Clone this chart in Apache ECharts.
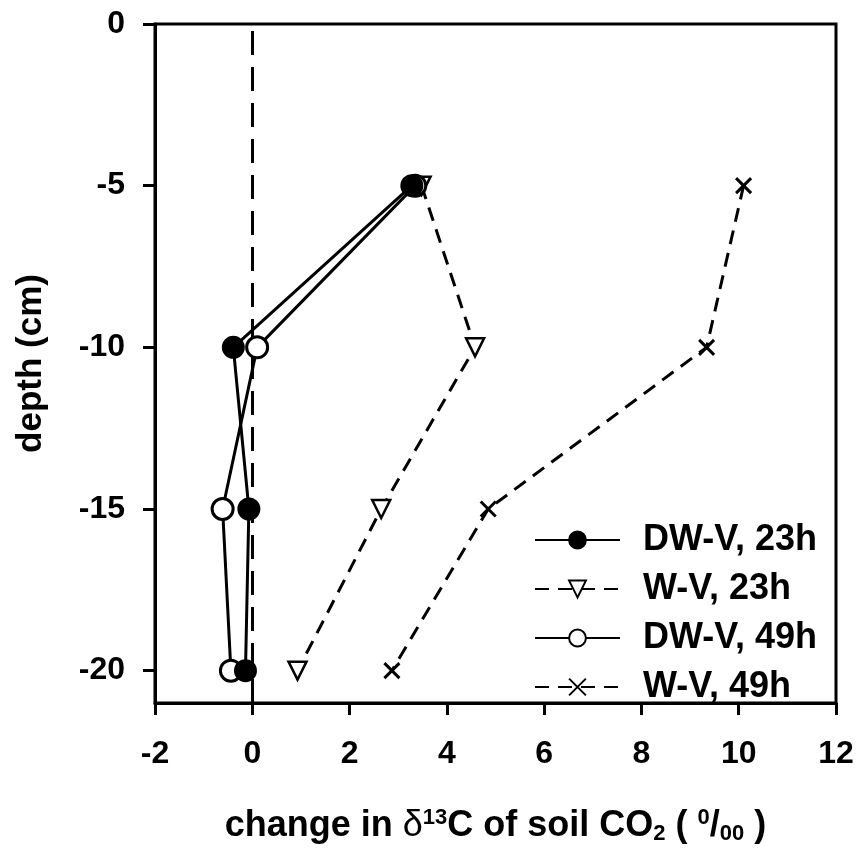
<!DOCTYPE html>
<html>
<head>
<meta charset="utf-8">
<script src="https://cdn.jsdelivr.net/npm/echarts@6/dist/echarts.min.js"></script>
<style>
  html, body { margin: 0; padding: 0; background: #fff; }
  #chart { width: 860px; height: 853px; }
</style>
</head>
<body>
<div id="chart"></div>
<script>
// Depth of each sampling level (cm)
const depths = [-5, -10, -15, -20];

// Change in δ13C of soil CO2 (per mil) at each depth
const dwv23 = [3.28, -0.39, -0.07, -0.14];
const wv23  = [3.48, 4.58, 2.65, 0.93];
const dwv49 = [3.35, 0.10, -0.61, -0.44];
const wv49  = [10.10, 9.34, 4.85, 2.87];

const xTicks = [-2, 0, 2, 4, 6, 8, 10, 12];
const yTicks = [0, -5, -10, -15, -20];

const FONT = 'Liberation Sans, Arial, sans-serif';
const pair = (xs) => xs.map((v, i) => [v, depths[i]]);
const crossPath = 'path://M0,0L10,10M10,0L0,10';

const chart = echarts.init(document.getElementById('chart'), null, { renderer: 'canvas' });

function lineSeries(name, values, opts) {
  return Object.assign({
    name: name,
    type: 'line',
    data: pair(values),
    symbolSize: 21,
    lineStyle: { color: '#000', width: 3, type: 'solid' },
    itemStyle: { color: '#000', borderColor: '#000', borderWidth: 3 },
    emphasis: { disabled: true },
    animation: false,
    z: 3
  }, opts);
}

chart.setOption({
  backgroundColor: '#fff',
  animation: false,
  grid: {
    left: 155, right: 24, top: 24, bottom: 150,
    show: true, borderColor: '#000', borderWidth: 3, backgroundColor: 'transparent'
  },
  xAxis: {
    type: 'value', min: -2, max: 12, interval: 2,
    name: 'change in {d|δ}{sup|13}C of soil CO{sub|2} ( {sup|0}/{sub|00} )',
    nameLocation: 'middle', nameGap: 104,
    nameTextStyle: {
      fontFamily: FONT, fontSize: 36, fontWeight: 'bold', color: '#000',
      rich: {
        d: { fontFamily: FONT, fontSize: 36, fontWeight: 'normal', color: '#000' },
        sup: { fontFamily: FONT, fontSize: 22, fontWeight: 'bold', color: '#000', verticalAlign: 'top', padding: [0, 0, 16, 0] },
        sub: { fontFamily: FONT, fontSize: 22, fontWeight: 'bold', color: '#000', verticalAlign: 'bottom', padding: [14, 0, 0, 0] }
      }
    },
    axisLine: { onZero: false, lineStyle: { color: '#000', width: 3 } },
    axisTick: { show: true, length: 12, inside: false, lineStyle: { color: '#000', width: 3 } },
    axisLabel: {
      margin: 35, fontFamily: FONT, fontSize: 32, fontWeight: 'bold', color: '#000',
      formatter: (v) => xTicks.includes(v) ? String(v) : ''
    },
    splitLine: { show: false }
  },
  yAxis: {
    type: 'value', min: -21, max: 0,
    name: 'depth (cm)',
    nameLocation: 'middle', nameGap: 106, nameRotate: 90,
    nameTextStyle: { fontFamily: FONT, fontSize: 35, fontWeight: 'bold', color: '#000' },
    axisLine: { onZero: false, lineStyle: { color: '#000', width: 3 } },
    axisTick: { show: true, length: 12, lineStyle: { color: '#000', width: 3 }, customValues: yTicks },
    axisLabel: {
      margin: 30, fontFamily: FONT, fontSize: 32, fontWeight: 'bold', color: '#000',
      customValues: yTicks
    },
    splitLine: { show: false }
  },
  legend: {
    show: true,
    left: 529, top: 517,
    orient: 'vertical',
    itemWidth: 85, itemHeight: 21, itemGap: 13,
    textStyle: { fontFamily: FONT, fontSize: 36, fontWeight: 'bold', color: '#000', padding: [0, 0, 0, 18] },
    data: ['DW-V, 23h', 'W-V, 23h', 'DW-V, 49h', 'W-V, 49h']
  },
  series: [
    lineSeries('DW-V, 23h', dwv23, {
      symbol: 'circle', z: 5,
      itemStyle: { color: '#000', borderColor: '#000', borderWidth: 2 },
      markLine: {
        silent: true, symbol: ['none', 'none'], label: { show: false },
        lineStyle: { color: '#000', width: 3, type: [24, 12] },
        data: [{ xAxis: 0 }],
        z: 1
      }
    }),
    lineSeries('W-V, 23h', wv23, {
      symbol: 'triangle', symbolRotate: 180, symbolSize: 18,
      lineStyle: { color: '#000', width: 3, type: [14, 9] },
      itemStyle: { color: '#fff', borderColor: '#000', borderWidth: 2.5 }
    }),
    lineSeries('DW-V, 49h', dwv49, {
      symbol: 'circle', z: 4,
      itemStyle: { color: '#fff', borderColor: '#000', borderWidth: 3 }
    }),
    lineSeries('W-V, 49h', wv49, {
      symbol: crossPath, symbolSize: 15,
      lineStyle: { color: '#000', width: 3, type: [14, 9] },
      itemStyle: { color: '#000', borderColor: '#000', borderWidth: 3 }
    })
  ]
});
</script>
</body>
</html>
